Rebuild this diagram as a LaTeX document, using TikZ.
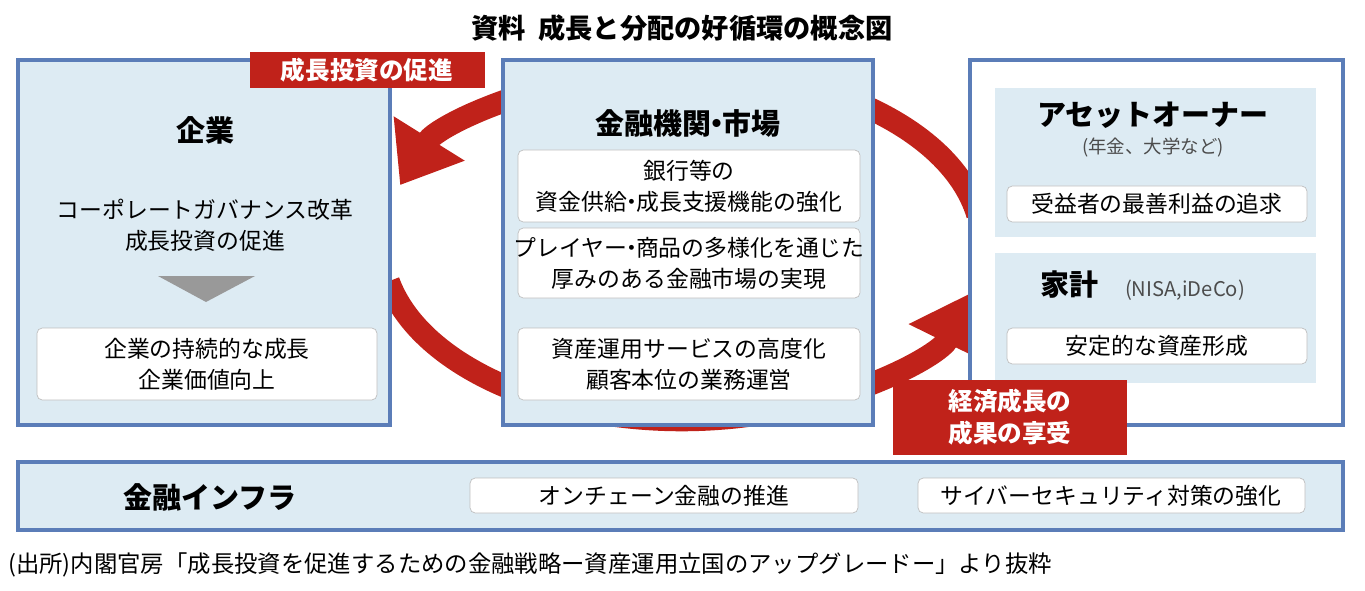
\documentclass[tikz,border=0pt]{standalone}
\usepackage{fontspec}
\setmainfont{Noto Sans CJK JP}
\usetikzlibrary{arrows.meta}
\definecolor{boxblue}{HTML}{DDEBF3}
\definecolor{lineblue}{HTML}{5B7DB8}
\definecolor{cycred}{HTML}{C0221A}
\newcommand{\dotj}{\kern-0.3em・\kern-0.3em}
\tikzset{
  panel/.style={draw=lineblue,line width=2.5pt,fill=boxblue},
  card/.style={draw=black!25,fill=white,rounded corners=3pt},
  txt/.style={font=\fontsize{13}{17.5}\selectfont,align=center,inner sep=0pt},
  head/.style={font=\fontsize{16.5}{20}\selectfont\bfseries,inner sep=0pt},
  tag/.style={fill=cycred,text=white,font=\fontsize{14}{18}\selectfont\bfseries,align=center,inner sep=0pt}
}
\begin{document}
\begin{tikzpicture}[x=0.02cm,y=-0.02cm]
\useasboundingbox (0,0) rectangle (1365,591);

\node[font=\fontsize{15.5}{18}\selectfont\bfseries] (title) at (682,28) {資料\ \ 成長と分配の好循環の概念図};

% cycle
\draw[cycred,line width=0.45cm,-{Triangle[length=1.1cm,width=1.6cm]}]
  ([shift={(-10:300 and 175)}]682,245) arc [x radius=300, y radius=175, start angle=-10, end angle=-160];
\draw[cycred,line width=0.45cm,-{Triangle[length=1.1cm,width=1.6cm]}]
  ([shift={(168:300 and 175)}]682,245) arc [x radius=300, y radius=175, start angle=168, end angle=16];

% panels
\draw[panel] (18,60) rectangle (390,425);
\draw[panel] (503,60) rectangle (873,425);
\draw[panel,fill=white] (970,60) rectangle (1343,425);
\fill[boxblue] (995,88) rectangle (1316,237);
\fill[boxblue] (995,253) rectangle (1316,383);
\draw[panel] (18,462) rectangle (1343,530);

% left
\node[head] (corp) at (205,130) {企業};
\node[txt] (corptxt) at (205,225) {コーポレートガバナンス改革\\成長投資の促進};
\fill[black!40] (158,276) -- (255,276) -- (206,302) -- cycle;
\draw[card] (37,328) rectangle (377,400);
\node[txt] (corpgoal) at (207,364) {企業の持続的な成長\\企業価値向上};

% middle
\node[head] (fin) at (688,123) {金融機関\dotj 市場};
\draw[card] (518,150) rectangle (860,222);
\node[txt] (fin1) at (689,186) {銀行等の\\資金供給\dotj 成長支援機能の強化};
\draw[card] (518,228) rectangle (860,298);
\node[txt] (fin2) at (689,263) {プレイヤー\dotj 商品の多様化を通じた\\厚みのある金融市場の実現};
\draw[card] (518,328) rectangle (860,400);
\node[txt] (fin3) at (689,364) {資産運用サービスの高度化\\顧客本位の業務運営};

% right
\node[head] (owner) at (1153,115) {アセットオーナー};
\node[txt,font=\fontsize{10.5}{12}\selectfont,text=black!70] (ownersub) at (1153,148) {(年金、大学など)};
\draw[card] (1007,186) rectangle (1307,222);
\node[txt] (owner1) at (1157,204) {受益者の最善利益の追求};
\node[head] (house) at (1069,285) {家計};
\node[txt,font=\fontsize{11.5}{13}\selectfont,text=black!70] (housesub) at (1185,290) {(NISA,iDeCo)};
\draw[card] (1007,328) rectangle (1307,364);
\node[txt] (house1) at (1157,346) {安定的な資産形成};

% tags
\fill[cycred] (250,52) rectangle (485,88);
\node[tag] (tagA) at (367,70) {成長投資の促進};
\fill[cycred] (893,380) rectangle (1127,455);
\node[tag] (tagB) at (1010,417) {経済成長の\\成果の享受};

% bottom
\node[head] (infra) at (210,497) {金融インフラ};
\draw[card] (470,478) rectangle (858,513);
\node[txt] (infra1) at (664,496) {オンチェーン金融の推進};
\draw[card] (918,478) rectangle (1305,513);
\node[txt] (infra2) at (1111,496) {サイバーセキュリティ対策の強化};

\node[txt,anchor=west,font=\fontsize{13.3}{17}\selectfont] (src) at (8,565) {(出所)内閣官房「成長投資を促進するための金融戦略ー資産運用立国のアップグレードー」より抜粋};
\end{tikzpicture}
\end{document}
